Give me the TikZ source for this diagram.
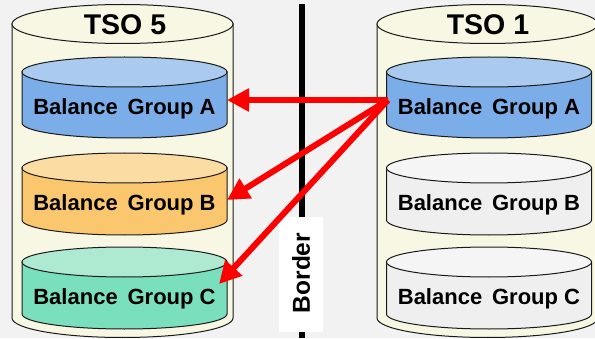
\documentclass[tikz,border=0pt]{standalone}
\usepackage{fontspec}
\setmainfont{Liberation Sans}
\usetikzlibrary{arrows.meta}
\definecolor{bg}{HTML}{F2F2F2}
\definecolor{cream}{HTML}{F7F7E3}
\definecolor{abody}{HTML}{7BAEE9}
\definecolor{atop}{HTML}{AACAEF}
\definecolor{bbody}{HTML}{FAC66E}
\definecolor{btop}{HTML}{FBDCA2}
\definecolor{cbody}{HTML}{7ADFBC}
\definecolor{ctop}{HTML}{AEE9D2}
\definecolor{gbody}{HTML}{EFEFEF}
\definecolor{gtop}{HTML}{F5F5F5}
\definecolor{outl}{HTML}{1A1A1A}
\definecolor{arrowred}{HTML}{FF0000}
% \drawcyl{xcenter}{rx}{ytopcenter}{ybotcenter}{ry}{bodycolor}{topcolor}
\newcommand{\drawcyl}[7]{%
  \path[cylout,fill=#6] (#1-#2,#3) -- (#1-#2,#4)
    arc[start angle=180,end angle=360,x radius=#2,y radius=#5] -- (#1+#2,#3) -- cycle;
  \path[cylout,fill=#7] (#1,#3) ellipse[x radius=#2,y radius=#5];
}
\newcommand{\bgtext}[1]{Balance\hspace{0.45em}Group~#1}
\tikzset{
  cylout/.style={draw=outl,line width=1pt},
  title/.style={font=\bfseries\fontsize{28.5}{30}\selectfont,inner sep=0pt},
  grp/.style={font=\bfseries\fontsize{22}{24}\selectfont,inner sep=0pt},
  redarrow/.style={draw=arrowred,line width=6pt,-{Triangle[length=22pt,width=22pt]}},
}
\begin{document}
\begin{tikzpicture}[x=1pt,y=1pt]
\fill[bg] (0,0) rectangle (595,338);
\useasboundingbox (0,0) rectangle (595,338);
% big cylinders
\drawcyl{122.5}{110.5}{314}{20}{19.5}{cream}{cream}
\drawcyl{487.5}{110.5}{314}{20}{19.5}{cream}{cream}
% left inner cylinders
\drawcyl{124.5}{102.5}{266}{215}{15}{abody}{atop}
\drawcyl{124.5}{102.5}{170}{118}{15}{bbody}{btop}
\drawcyl{124.5}{102.5}{76}{24}{15}{cbody}{ctop}
% right inner cylinders
\drawcyl{489}{102.5}{266}{215}{15}{abody}{atop}
\drawcyl{489}{102.5}{170}{118}{15}{gbody}{gtop}
\drawcyl{489}{102.5}{76}{24}{15}{gbody}{gtop}
% titles
\node[title] (tso5) at (125,313) {TSO 5};
\node[title] (tso1) at (488,313) {TSO 1};
% group labels
\node[grp] (la) at (124.5,229.5) {\bgtext{A}};
\node[grp] (lb) at (124.5,133.5) {\bgtext{B}};
\node[grp] (lc) at (124.5,39.5) {\bgtext{C}};
\node[grp] (ra) at (489,229.5) {\bgtext{A}};
\node[grp] (rb) at (489,133.5) {\bgtext{B}};
\node[grp] (rc) at (489,39.5) {\bgtext{C}};
% border line
\coordinate (btop) at (301.5,334);
\coordinate (bbot) at (301.5,0);
\draw[black,line width=6pt] (btop) -- (bbot);
\node[fill=white,minimum width=44pt,minimum height=115pt,inner sep=0pt] (borderbox) at (301,63.5) {};
\node[rotate=90,font=\bfseries\fontsize{24.5}{26}\selectfont,inner sep=0pt] (bordertxt) at (301,65) {Border};
% arrows
\coordinate (src) at (388,238);
\coordinate (ta) at (227,238);
\coordinate (tb) at (227,138);
\coordinate (tc) at (219,54);
\draw[redarrow] (src) -- (ta);
\draw[redarrow] (src) -- (tb);
\draw[redarrow] (src) -- (tc);
\end{tikzpicture}
\end{document}
